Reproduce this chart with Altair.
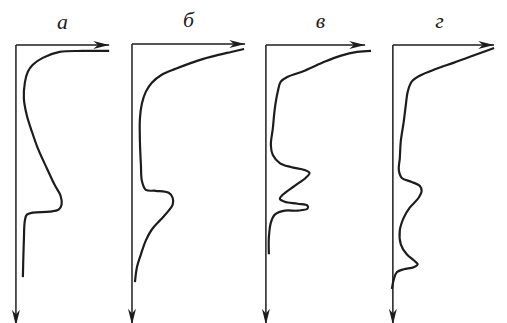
import altair as alt
import pandas as pd

# ---- data (units: value to the right of the axis, depth below the top axis)
labels = ["а", "б", "в", "г"]

a_x = [94, 67, 44, 27, 17, 12, 9, 8, 11, 16, 22, 31, 39, 45, 46, 43, 34, 17, 11, 9, 8, 7]
a_d = [6, 6, 7, 13, 20, 27, 38, 54, 71, 87, 104, 124, 141, 152, 161, 166, 168, 169, 171, 177, 197, 234]

b_x = [113, 100, 87, 72, 57, 44, 30, 20, 14, 10, 8, 8, 9, 10, 14, 24, 37, 41, 41, 37, 29, 20, 14, 9, 5, 3]
b_d = [5, 8, 11, 15, 20, 25, 31, 39, 48, 60, 75, 98, 122, 138, 147, 148, 150, 155, 162, 168, 177, 187, 198, 212, 225, 240]

c_x = [106, 92, 75, 59, 39, 22, 15, 12, 9, 7, 5, 7, 14, 25, 39, 44, 40, 29, 17, 14, 19, 32, 42, 42, 32, 19, 9, 5, 3, 3]
c_d = [6, 7, 11, 17, 26, 32, 37, 47, 64, 84, 101, 111, 119, 123, 126, 129, 134, 142, 151, 155, 158, 160, 162, 165, 167, 167, 171, 179, 194, 211]

d_x = [102, 91, 77, 61, 44, 27, 19, 15, 13, 11, 8, 7, 6, 9, 19, 27, 29, 26, 17, 11, 7, 8, 14, 21, 25, 21, 11, 4, 1, -1]
d_d = [3, 7, 12, 18, 24, 31, 37, 47, 61, 77, 97, 114, 126, 134, 138, 142, 147, 154, 164, 174, 187, 201, 211, 217, 221, 224, 226, 229, 236, 246]

# axis arrow tips (value, depth)
arrow_x = [94, 114, 100, 102]
arrow_d = [283, 283, 282, 282]

# label positions (value, depth)
label_x = [47, 57, 55, 47]
label_d = [-16, -17, -17, -17]

series_x = [a_x, b_x, c_x, d_x]
series_d = [a_d, b_d, c_d, d_d]

# panel extents in the same units: (left, right, top, bottom)
extents = [(-8, 106, -28, 284), (-11, 124, -27, 285), (-11, 116, -28, 284), (-12, 103, -28, 284)]

INK = "#1c1c1c"
RIGHT = "M0,0L-1,-0.25L-0.7,0L-1,0.25Z"
DOWN = "M0,0L-0.25,-1L0,-0.7L0.25,-1Z"


def panel(i):
    left, right, top, bottom = extents[i]
    xs = alt.Scale(domain=[left, right], nice=False, zero=False)
    ys = alt.Scale(domain=[top, bottom], nice=False, zero=False, reverse=True)
    X = lambda f: alt.X(f, type="quantitative", scale=xs, axis=None)
    Y = lambda f: alt.Y(f, type="quantitative", scale=ys, axis=None)

    curve = pd.DataFrame({"x": series_x[i], "d": series_d[i], "o": list(range(len(series_x[i])))})
    axes_df = pd.DataFrame({"x": [0, 0], "x2": [0, arrow_x[i]], "d": [0, 0], "d2": [arrow_d[i], 0]})
    tip_r = pd.DataFrame({"x": [arrow_x[i]], "d": [0]})
    tip_d = pd.DataFrame({"x": [0], "d": [arrow_d[i]]})
    lab = pd.DataFrame({"x": [label_x[i]], "d": [label_d[i]], "t": [labels[i]]})

    axes = alt.Chart(axes_df).mark_rule(color=INK, strokeWidth=1.5).encode(
        x=X("x"), x2="x2", y=Y("d"), y2="d2")
    ar = alt.Chart(tip_r).mark_point(shape=RIGHT, filled=True, size=1024, color=INK, opacity=1, strokeWidth=0).encode(
        x=X("x"), y=Y("d"))
    ad = alt.Chart(tip_d).mark_point(shape=DOWN, filled=True, size=1024, color=INK, opacity=1, strokeWidth=0).encode(
        x=X("x"), y=Y("d"))
    line = alt.Chart(curve).mark_line(color=INK, strokeWidth=2.2, interpolate="catmull-rom").encode(
        x=X("x"), y=Y("d"), order="o:Q")
    txt = alt.Chart(lab).mark_text(font="Liberation Serif", fontStyle="italic", fontSize=22,
                                   baseline="alphabetic", align="center", color=INK).encode(
        x=X("x"), y=Y("d"), text="t:N")
    return alt.layer(axes, line, ar, ad, txt).properties(width=right - left, height=bottom - top)


chart = alt.hconcat(*[panel(i) for i in range(4)], spacing=0).properties(padding=0).configure_view(stroke=None)

chart.save("out.html", embed_options={"renderer": "svg", "actions": False})
